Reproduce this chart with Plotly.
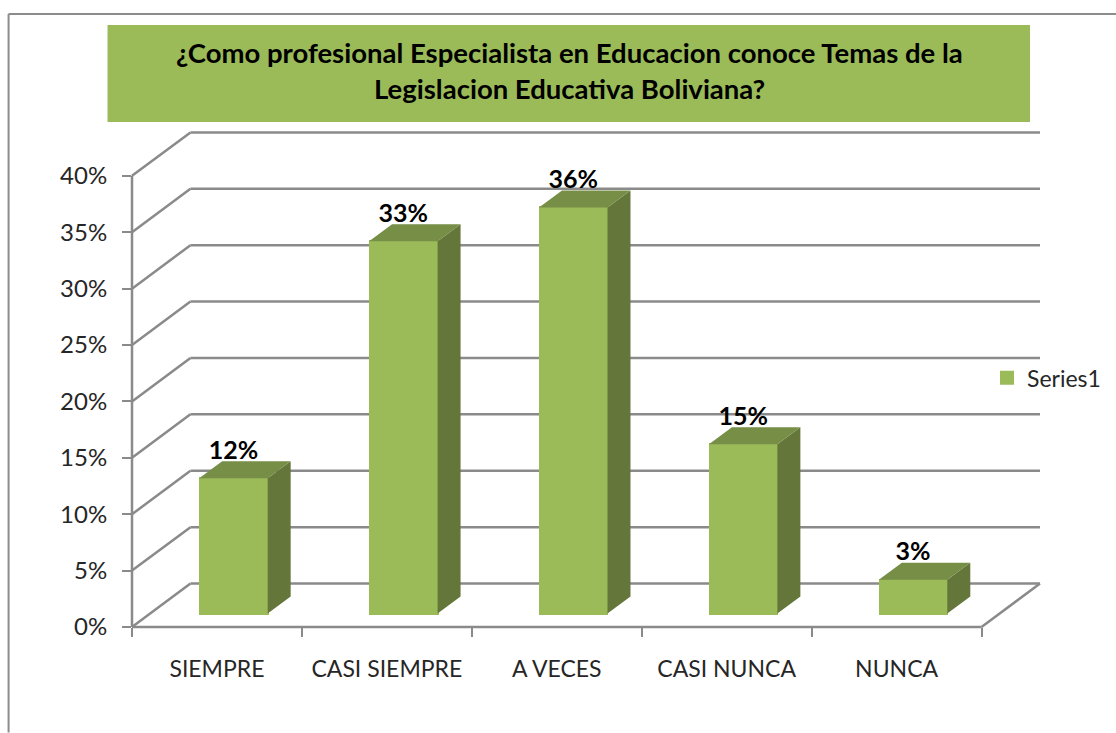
import plotly.graph_objects as go

# ---- data ----
categories = ["SIEMPRE", "CASI SIEMPRE", "A VECES", "CASI NUNCA", "NUNCA"]
values = [0.12, 0.33, 0.36, 0.15, 0.03]
value_ticks = [0, 0.05, 0.10, 0.15, 0.20, 0.25, 0.30, 0.35, 0.40]
title_lines = ["¿Como profesional Especialista en Educacion conoce Temas de la",
               "Legislacion Educativa Boliviana?"]
series_name = "Series1"

# ---- geometry of the pseudo-3D box, in axis units ----
W, H = 1116, 733
PX_L, PX_R, PX_T, PX_B = 131.5, 1040.0, 133.0, 627.5
PX_PER_CAT, PX_PER_UNIT = 170.0, 1129.0
wall_dx, wall_dy = 58.5 / PX_PER_CAT, 43.5 / PX_PER_UNIT
bar_dx, bar_dy = 16.5 / PX_PER_CAT, 13.5 / PX_PER_UNIT
side_dx, side_dy = 23.0 / PX_PER_CAT, 17.0 / PX_PER_UNIT
bar_w = 68.5 / PX_PER_CAT
bar_trim = 1.0 / PX_PER_CAT     # the bar outline adds this much on the left
label_lift = 25.5 / PX_PER_UNIT

FONT = "Lato"
GREEN, SIDE, TOP = "#9BBB59", "#64763A", "#768E45"
GRID, TEXT = "#8A8A8A", "#262626"

n = len(categories)
centers = [i + 0.5 for i in range(n)]
boundaries = list(range(n + 1))
bar_x = [c + bar_dx for c in centers]
x_max = (PX_R - PX_L) / PX_PER_CAT
y_max = (PX_B - PX_T) / PX_PER_UNIT


def px(x):
    return (x - PX_L) / (PX_R - PX_L)


def py(y):
    return (PX_B - y) / (PX_B - PX_T)


shapes = []


def seg(x0, y0, x1, y1):
    # paper-referenced so that lines on the plot edge are not clipped
    shapes.append(dict(type="line", xref="paper", yref="paper",
                       x0=x0 / x_max, y0=y0 / y_max, x1=x1 / x_max, y1=y1 / y_max,
                       layer="below", line=dict(color=GRID, width=2.5)))


for v in value_ticks:
    seg(0, v, wall_dx, v + wall_dy)
    seg(wall_dx, v + wall_dy, n + wall_dx, v + wall_dy)
seg(n, 0, n + wall_dx, wall_dy)
seg(0, 0, n, 0)
seg(0, 0, 0, value_ticks[-1])

# title band
shapes.append(dict(type="rect", xref="paper", yref="paper", x0=px(107), x1=px(1030),
                   y0=py(122), y1=py(25), fillcolor=GREEN, line_width=0, layer="below"))
# outer chart frame (cropped by the picture on the right and the bottom)
for a, b, c, d in [(8, 14, W, 14), (8, 14, 8, H)]:
    shapes.append(dict(type="line", xref="paper", yref="paper", x0=px(a), y0=py(b),
                       x1=px(c), y1=py(d), layer="below",
                       line=dict(color="#8C8C8C", width=2)))

# side and top faces built from the values
side_x, side_y, top_x, top_y = [], [], [], []
for x, v in zip(bar_x, values):
    l, r = x - bar_w / 2, x + bar_w / 2
    b, t = bar_dy, bar_dy + v
    side_x += [r, r + side_dx, r + side_dx, r, r, None]
    side_y += [b, b + side_dy, t + side_dy, t, b, None]
    top_x += [l, l + side_dx, r + side_dx, r, l, None]
    top_y += [t, t + side_dy, t + side_dy, t, t, None]

fig = go.Figure()
fig.add_trace(go.Bar(x=[x + bar_trim / 2 for x in bar_x], y=values, base=bar_dy,
                     width=bar_w - bar_trim, name=series_name,
                     marker=dict(color=GREEN, line=dict(width=2, color=GREEN)), showlegend=True))
fig.add_trace(go.Scatter(x=side_x, y=side_y, mode="lines", fill="toself", fillcolor=SIDE,
                         line=dict(width=0, color=SIDE), showlegend=False, hoverinfo="skip"))
fig.add_trace(go.Scatter(x=top_x, y=top_y, mode="lines", fill="toself", fillcolor=TOP,
                         line=dict(width=0, color=TOP), showlegend=False, hoverinfo="skip"))
fig.add_trace(go.Scatter(x=bar_x, y=[v + bar_dy + label_lift for v in values], mode="text",
                         text=[f"{round(v * 100)}%" for v in values],
                         textposition="middle center", cliponaxis=False,
                         textfont=dict(family=FONT, size=25, color="#000000", weight=700),
                         showlegend=False, hoverinfo="skip"))

annotations = [
    dict(text=t, xref="paper", yref="paper", x=px(569), y=py(yc), xanchor="center",
         yanchor="middle", showarrow=False,
         font=dict(family=FONT, size=27.5, color="#000000", weight=700))
    for t, yc in zip(title_lines, (52, 88))
]

fig.update_layout(
    width=W, height=H,
    margin=dict(l=PX_L, r=W - PX_R, t=PX_T, b=H - PX_B, autoexpand=False),
    paper_bgcolor="white", plot_bgcolor="white",
    bargap=0, shapes=shapes, annotations=annotations,
    font=dict(family=FONT, color=TEXT),
    legend=dict(x=px(987), y=py(378), xanchor="left", yanchor="middle",
                font=dict(family=FONT, size=23, color=TEXT), bgcolor="rgba(0,0,0,0)",
                itemwidth=30),
    xaxis=dict(range=[0, x_max], tickmode="array", tickvals=centers,
               ticktext=categories, ticks="", showgrid=False, zeroline=False, showline=False,
               tickfont=dict(family=FONT, size=23, color=TEXT), ticklabelstandoff=26,
               minor=dict(tickmode="array", tickvals=boundaries, ticks="outside", ticklen=9,
                          tickwidth=2, tickcolor=GRID, showgrid=False)),
    yaxis=dict(range=[0, y_max], tickmode="array", tickvals=value_ticks,
               tickformat=".0%", ticks="outside", ticklen=9, tickwidth=2, tickcolor=GRID,
               showgrid=False, zeroline=False, showline=False,
               tickfont=dict(family=FONT, size=24, color=TEXT), ticklabelstandoff=10),
)

fig.write_html("out.html", config=dict(displayModeBar=False),
               post_script="document.body.style.margin='0';document.body.style.overflow='hidden';")
